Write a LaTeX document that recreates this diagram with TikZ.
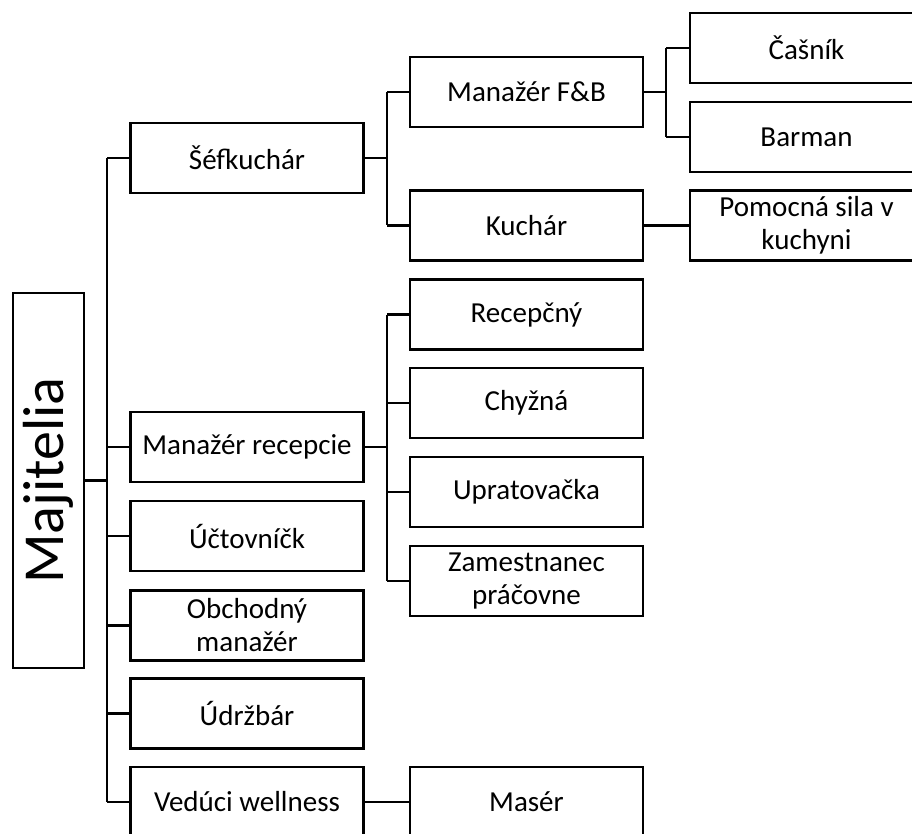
\documentclass[tikz,border=0pt]{standalone}
\usepackage{fontspec}
\setmainfont{Carlito}
\begin{document}
\begin{tikzpicture}[x=1pt,y=-1pt,
  boxstyle/.style={draw=black, line width=2.8pt, minimum width=233pt, minimum height=70pt, inner sep=0pt, align=center, font=\fontsize{29}{33}\selectfont},
  conn/.style={draw=black, line width=2.3pt}]
\useasboundingbox (0,0) rectangle (912,834);
\clip (0,0) rectangle (912,834);
% root
\node[draw=black, line width=2.8pt, minimum width=71pt, minimum height=375pt, inner sep=0pt, font=\fontsize{58}{60}\selectfont] (maj) at (48.5,480.5) {\rotatebox{90}{Majitelia}};
% level 1
\node[boxstyle] (sef) at (247,158) {Šéfkuchár};
\node[boxstyle] (rec) at (247,447) {Manažér recepcie};
\node[boxstyle] (uct) at (247,536) {Účtovníčk};
\node[boxstyle] (obch) at (247,625.5) {Obchodný\\manažér};
\node[boxstyle] (udr) at (247,713.5) {Údržbár};
\node[boxstyle] (ved) at (247,802) {Vedúci wellness};
% level 2
\node[boxstyle] (fb) at (526.5,92) {Manažér F\&B};
\node[boxstyle] (kuch) at (526.5,225.5) {Kuchár};
\node[boxstyle] (recep) at (526.5,314.5) {Recepčný};
\node[boxstyle] (chyz) at (526.5,403) {Chyžná};
\node[boxstyle] (uprat) at (526.5,492) {Upratovačka};
\node[boxstyle] (zam) at (526.5,581) {Zamestnanec\\práčovne};
\node[boxstyle] (maser) at (526.5,802) {Masér};
% level 3
\node[boxstyle] (cas) at (806.5,48) {Čašník};
\node[boxstyle] (bar) at (806.5,137) {Barman};
\node[boxstyle] (pom) at (806.5,225.5) {Pomocná sila v\\kuchyni};
% bus coordinates
\coordinate (t1) at (107,0);
\coordinate (t2) at (387,0);
\coordinate (t3) at (666,0);
% root connectors
\draw[conn] (maj.east) -- (maj.east -| t1);
\draw[conn] (sef.west -| t1) -- (ved.west -| t1);
\foreach \n in {sef,rec,uct,obch,udr,ved} \draw[conn] (\n.west) -- (\n.west -| t1);
% Šéfkuchár
\draw[conn] (sef.east) -- (sef.east -| t2);
\draw[conn] (fb.west -| t2) -- (kuch.west -| t2);
\foreach \n in {fb,kuch} \draw[conn] (\n.west) -- (\n.west -| t2);
% Manažér F&B
\draw[conn] (fb.east) -- (fb.east -| t3);
\draw[conn] (cas.west -| t3) -- (bar.west -| t3);
\foreach \n in {cas,bar} \draw[conn] (\n.west) -- (\n.west -| t3);
% Kuchár
\draw[conn] (kuch.east) -- (pom.west);
% Manažér recepcie
\draw[conn] (rec.east) -- (rec.east -| t2);
\draw[conn] (recep.west -| t2) -- (zam.west -| t2);
\foreach \n in {recep,chyz,uprat,zam} \draw[conn] (\n.west) -- (\n.west -| t2);
% Vedúci wellness
\draw[conn] (ved.east) -- (maser.west);
\end{tikzpicture}
\end{document}
